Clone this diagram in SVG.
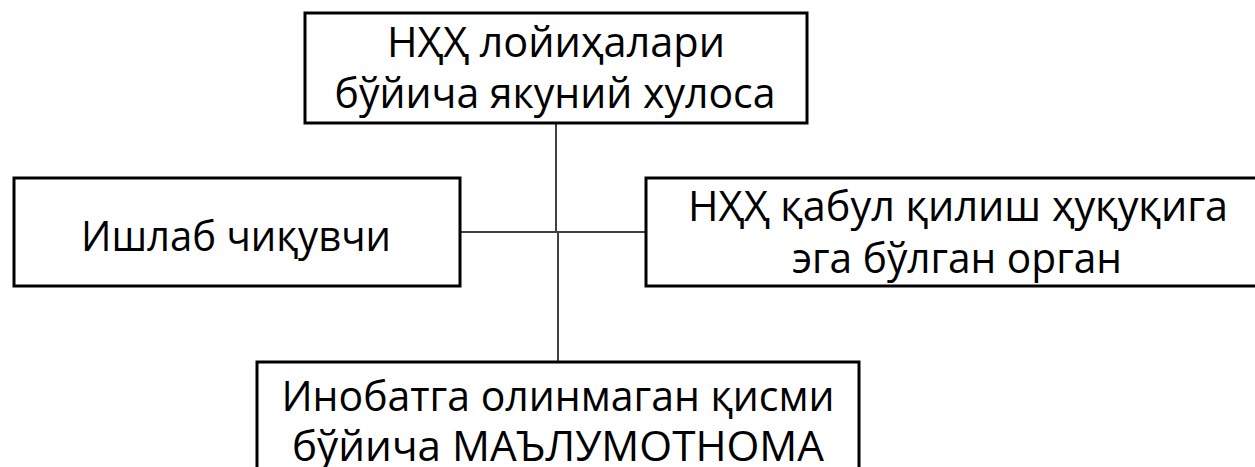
<svg xmlns="http://www.w3.org/2000/svg" width="1255" height="467" viewBox="0 0 1255 467">
<style>
.box{fill:#fff;stroke:#000;stroke-width:3}
.t{font-family:"Open Sans","Noto Sans","DejaVu Sans",sans-serif;font-size:42px;fill:#000;text-anchor:middle}
.c{stroke:#404040;stroke-width:2;fill:none}
</style>
<rect width="1255" height="467" fill="#fff"/>
<g id="connectors">
<line class="c" x1="556" y1="123" x2="556" y2="232"/>
<line class="c" x1="460" y1="232" x2="646" y2="232"/>
<line class="c" x1="558" y1="232" x2="558" y2="362"/>
</g>
<g id="node-top">
<rect class="box" x="305" y="13" width="502" height="110"/>
<text class="t" x="556" y="57" textLength="338" lengthAdjust="spacingAndGlyphs">НҲҲ лойиҳалари</text>
<text class="t" x="555" y="108" textLength="441" lengthAdjust="spacingAndGlyphs">бўйича якуний хулоса</text>
</g>
<g id="node-left">
<rect class="box" x="14" y="178" width="446" height="108"/>
<text class="t" x="236" y="251" textLength="310" lengthAdjust="spacingAndGlyphs">Ишлаб чиқувчи</text>
</g>
<g id="node-right">
<rect class="box" x="646" y="178" width="620" height="108"/>
<text class="t" x="958" y="221" textLength="540" lengthAdjust="spacingAndGlyphs">НҲҲ қабул қилиш ҳуқуқига</text>
<text class="t" x="957" y="273" textLength="330" lengthAdjust="spacingAndGlyphs">эга бўлган орган</text>
</g>
<g id="node-bottom">
<rect class="box" x="257" y="362" width="602" height="120"/>
<text class="t" x="558" y="411" textLength="553" lengthAdjust="spacingAndGlyphs">Инобатга олинмаган қисми</text>
<text class="t" x="558" y="461" textLength="532" lengthAdjust="spacingAndGlyphs">бўйича МАЪЛУМОТНОМА</text>
</g>
</svg>
